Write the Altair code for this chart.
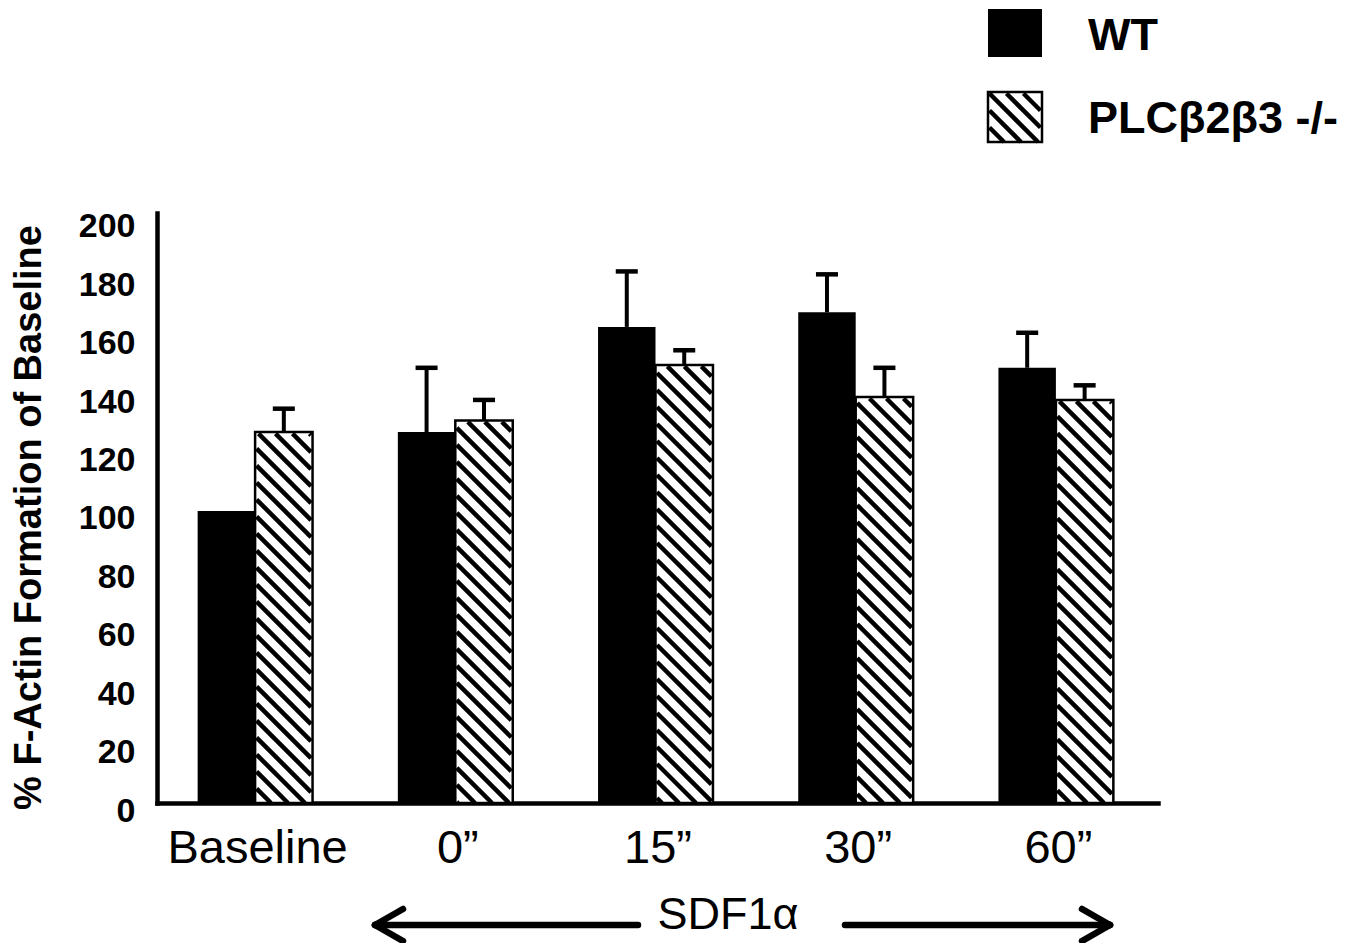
import altair as alt
import pandas as pd

# ---- data ----
categories = ["Baseline", "0\u201d", "15\u201d", "30\u201d", "60\u201d"]
wt_mean = [100, 127, 163, 168, 149]
wt_sem = [0, 22, 19, 13, 12]
plc_mean = [127, 131, 150, 139, 138]
plc_sem = [8, 7, 5, 10, 5]
series = ["WT", "PLC\u03b22\u03b23 -/-"]
y_ticks = [0, 20, 40, 60, 80, 100, 120, 140, 160, 180, 200]

# ---- layout constants ----
W, H = 1001, 590
XMAX, YMAX = 5.0, 202.0
BW = 0.287          # bar width in x units
CAP = 0.055         # half cap width in x units
FONT = "Liberation Sans"

def px(x):
    return x / XMAX * W

def py(y):
    return H - y / YMAX * H

def ux(X):
    return X / W * XMAX

def uy(Y):
    return (H - Y) / H * YMAX

rows = []
for i, c in enumerate(categories):
    ctr = i + 0.49
    rows.append(dict(cat=c, s=series[0], x0=ctr - BW, x1=ctr, xc=ctr - BW / 2,
                     v=wt_mean[i], e=wt_mean[i] + wt_sem[i], sem=wt_sem[i]))
    rows.append(dict(cat=c, s=series[1], x0=ctr, x1=ctr + BW, xc=ctr + BW / 2,
                     v=plc_mean[i], e=plc_mean[i] + plc_sem[i], sem=plc_sem[i]))
df = pd.DataFrame(rows)
df["cl"] = df["xc"] - CAP
df["cr"] = df["xc"] + CAP
df["zero"] = 0.0

# hatch segments, clipped to each hatched bar (computed in pixel space)
def hatch(X0, X1, Yt, Yb, period=17.0, inset=1.5):
    X0, X1, Yt, Yb = X0 + inset, X1 - inset, Yt + inset, Yb
    segs = []
    k = X0 - Yb - period * 2
    k = period * (int(k // period) - 1)
    while k < X1 - Yt + period:
        lo = max(Yt, X0 - k)
        hi = min(Yb, X1 - k)
        if hi - lo > 0.5:
            segs.append((lo + k, lo, hi + k, hi))
        k += period
    return segs

hseg = []
for _, r in df[df["s"] == series[1]].iterrows():
    for (a, b, c2, d) in hatch(px(r.x0), px(r.x1), py(r.v), py(0)):
        hseg.append(dict(xa=ux(a), ya=uy(b), xb=ux(c2), yb=uy(d)))
hdf = pd.DataFrame(hseg)

xs = alt.Scale(domain=[0, XMAX], nice=False, zero=False)
ys = alt.Scale(domain=[0, YMAX], nice=False)

label_js = "[" + ",".join("'" + c + "'" for c in categories) + "]"
label_pos = [i + 0.5 for i in range(len(categories))]

base = alt.Chart(df)

wt_bars = base.transform_filter(alt.datum.s == series[0]).mark_rect(
    color="black").encode(
    x=alt.X("x0:Q", scale=xs,
            axis=alt.Axis(values=label_pos,
                          labelExpr=label_js + "[floor(datum.value)]",
                          labelFont=FONT, labelFontSize=47, labelColor="black",
                          labelLimit=0, labelPadding=22, ticks=False, grid=False,
                          title=None, domainColor="black", domainWidth=4.5)),
    x2="x1:Q",
    y=alt.Y("v:Q", scale=ys,
            axis=alt.Axis(values=y_ticks, labelFont=FONT, labelFontSize=34,
                          labelFontWeight="bold", labelColor="black",
                          labelPadding=22, labelOffset=8, ticks=False, grid=False,
                          domainColor="black", domainWidth=4.5,
                          title="%  F-Actin Formation of Baseline",
                          titleFont=FONT, titleFontSize=38, titleFontWeight="bold",
                          titleColor="black", titleAngle=270, titleBaseline="middle",
                          titleX=-128, titleY=304)),
    y2="zero:Q",
)

plc_fill = base.transform_filter(alt.datum.s == series[1]).mark_rect(
    fill="white").encode(x="x0:Q", x2="x1:Q", y="v:Q", y2="zero:Q")

stripes = alt.Chart(hdf).mark_rule(color="black", strokeWidth=4.5, strokeCap="butt").encode(
    x="xa:Q", y="ya:Q", x2="xb:Q", y2="yb:Q")

plc_outline = base.transform_filter(alt.datum.s == series[1]).mark_rect(
    fill=None, fillOpacity=0, stroke="black", strokeWidth=2.5).encode(
    x="x0:Q", x2="x1:Q", y="v:Q", y2="zero:Q")

err = base.transform_filter(alt.datum.sem > 0)
err_stem = err.mark_rule(color="black", strokeWidth=4).encode(
    x="xc:Q", y="v:Q", y2="e:Q")
err_cap = err.mark_rule(color="black", strokeWidth=4.5).encode(
    x="cl:Q", x2="cr:Q", y="e:Q")

# ---- legend (drawn manually, pixel coordinates relative to the plot) ----
leg = pd.DataFrame(dict(s=series, x0=[831, 831], x1=[885, 885],
                        y0=[-204, -121], y1=[-156, -71], ty=[-177, -94]))
leg_wt = alt.Chart(leg.iloc[[0]]).mark_rect(color="black").encode(
    x=alt.X("x0:Q", scale=None), x2="x1:Q", y=alt.Y("y0:Q", scale=None), y2="y1:Q")
leg_plc_fill = alt.Chart(leg.iloc[[1]]).mark_rect(fill="white").encode(
    x=alt.X("x0:Q", scale=None), x2="x1:Q", y=alt.Y("y0:Q", scale=None), y2="y1:Q")
lseg = [dict(xa=a, ya=b, xb=c2, yb=d) for (a, b, c2, d) in hatch(831, 885, -121, -71, inset=1.5)]
leg_stripes = alt.Chart(pd.DataFrame(lseg)).mark_rule(
    color="black", strokeWidth=4.5, strokeCap="butt").encode(
    x=alt.X("xa:Q", scale=None), y=alt.Y("ya:Q", scale=None),
    x2="xb:Q", y2="yb:Q")
leg_plc_out = alt.Chart(leg.iloc[[1]]).mark_rect(
    fill=None, fillOpacity=0, stroke="black", strokeWidth=2.5).encode(
    x=alt.X("x0:Q", scale=None), x2="x1:Q", y=alt.Y("y0:Q", scale=None), y2="y1:Q")
leg_text = alt.Chart(leg).mark_text(
    align="left", baseline="middle", font=FONT, fontSize=45, fontWeight="bold",
    color="black").encode(
    x=alt.value(931), y=alt.Y("ty:Q", scale=None), text="s:N")

# ---- SDF1alpha arrow annotation below the axis ----
arr = pd.DataFrame([
    dict(xa=218, ya=712, xb=481, yb=712),
    dict(xa=218, ya=712, xb=246, yb=696),
    dict(xa=218, ya=712, xb=246, yb=728),
    dict(xa=688, ya=712, xb=953, yb=712),
    dict(xa=953, ya=712, xb=925, yb=696),
    dict(xa=953, ya=712, xb=925, yb=728),
])
arrows = alt.Chart(arr).mark_rule(color="black", strokeWidth=6.5, strokeCap="round").encode(
    x=alt.X("xa:Q", scale=None), y=alt.Y("ya:Q", scale=None), x2="xb:Q", y2="yb:Q")
sdf = alt.Chart(pd.DataFrame(dict(t=["SDF1\u03b1"], x=[571], y=[702]))).mark_text(
    align="center", baseline="middle", font=FONT, fontSize=45, color="black").encode(
    x=alt.X("x:Q", scale=None), y=alt.Y("y:Q", scale=None), text="t:N")

chart = alt.layer(
    wt_bars, plc_fill, stripes, plc_outline, err_stem, err_cap,
    leg_wt, leg_plc_fill, leg_stripes, leg_plc_out, leg_text, arrows, sdf,
).properties(
    width=W, height=H,
    autosize=alt.AutoSizeParams(type="none"),
    padding={"left": 149, "top": 205, "right": 200, "bottom": 140},
).configure_view(stroke=None).configure_axis(domainCap="square")

chart.save("out.html", embed_options={"renderer": "svg", "actions": False})
